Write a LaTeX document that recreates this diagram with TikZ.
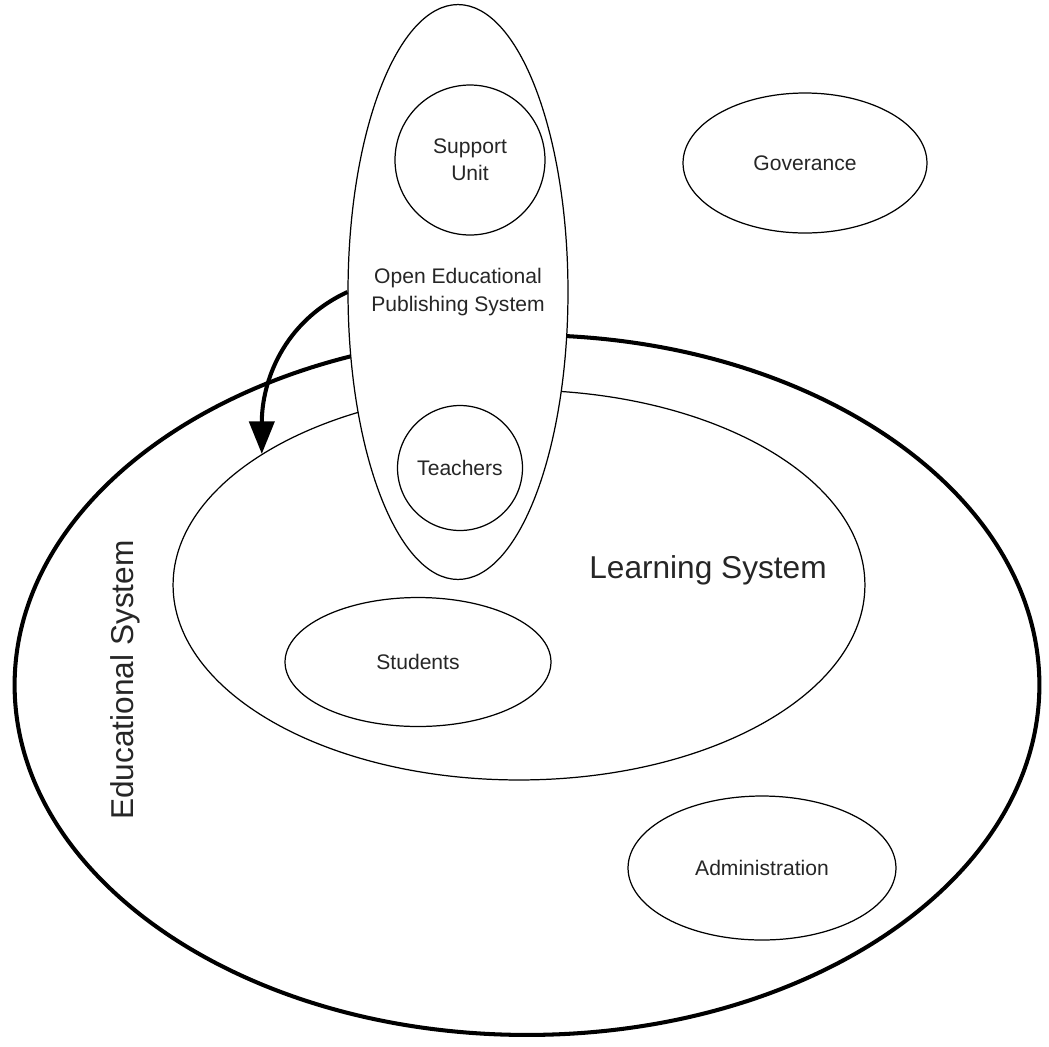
\documentclass[tikz,border=0pt]{standalone}
\usepackage{fontspec}
\setmainfont{Liberation Sans}
\usepackage{tikz}
\usetikzlibrary{shapes.geometric,arrows.meta}

\tikzset{
  blob/.style={draw, ellipse, line width=0.7pt, inner sep=0pt, align=center,
    font=\fontsize{12}{15.5}\selectfont, text=black!85},
  ring/.style={draw, circle, line width=0.7pt, inner sep=0pt, align=center,
    font=\fontsize{12}{15.5}\selectfont, text=black!85},
  smalltext/.style={align=center, font=\fontsize{12}{15.5}\selectfont, text=black!85},
  bigtext/.style={font=\fontsize{18}{22}\selectfont, text=black!85}
}

\begin{document}
\begin{tikzpicture}[x=0.02cm,y=-0.02cm]
\useasboundingbox (0,0) rectangle (1049,1046);
\node[blob, line width=2.3pt, minimum width=20.5cm, minimum height=14cm] (edu) at (527,685) {};
\node[bigtext, rotate=90] (edulabel) at (125,680) {Educational System};
\node[blob, minimum width=13.84cm, minimum height=7.8cm] (learn) at (519,585) {};
\node[bigtext] (learnlabel) at (708,570) {Learning System};
\node[blob, minimum width=5.32cm, minimum height=2.58cm] (students) at (418,662) {Students};
\node[blob, minimum width=5.36cm, minimum height=2.88cm] (admin) at (762,868) {Administration};
\node[blob, minimum width=4.88cm, minimum height=2.8cm] (gov) at (805,163) {Goverance};
% publishing system sits on top of the others
\node[blob, fill=white, minimum width=4.4cm, minimum height=11.5cm] (oeps) at (458,292) {};
\node[smalltext] (oepslabel) at (oeps.center) {Open Educational\\Publishing System};
\node[ring, minimum size=3cm] (support) at (470,160) {Support\\Unit};
\node[ring, minimum size=2.5cm] (teachers) at (460,468) {Teachers};
\coordinate (tip) at (learn.153);
\draw[line width=2.3pt, -{Triangle[length=0.65cm,width=0.5cm]}] (oeps.west) to[out=205,in=90] (tip);
\end{tikzpicture}
\end{document}
